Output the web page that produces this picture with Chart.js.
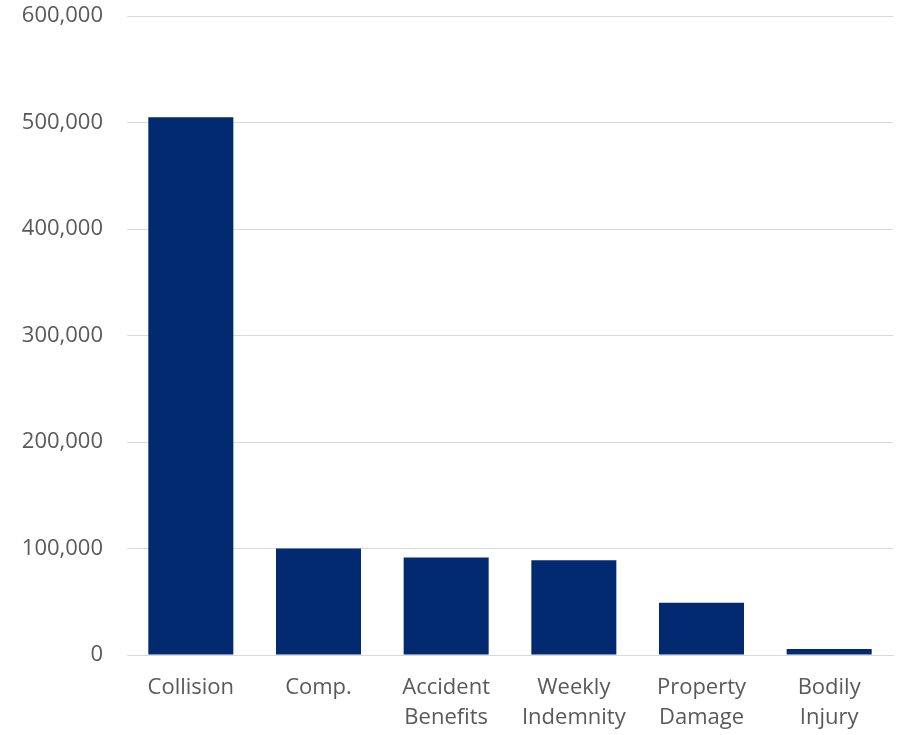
<!DOCTYPE html>
<html>
<head>
<meta charset="utf-8">
<script src="https://cdn.jsdelivr.net/npm/chart.js@4"></script>
<style>
  html, body { margin: 0; padding: 0; background: #fff; }
  #wrap { width: 899px; height: 735px; }
</style>
</head>
<body>
<div id="wrap"><canvas id="myChart" width="899" height="735"></canvas></div>
<script>
// setup
const categories = [
  "Collision",
  "Comp.",
  ["Accident", "Benefits"],
  ["Weekly", "Indemnity"],
  ["Property", "Damage"],
  ["Bodily", "Injury"],
];
const claimValues = [505000, 100000, 91500, 89000, 49000, 5600];
const yTicks = [0, 100000, 200000, 300000, 400000, 500000, 600000];

const textColor = "#595959";
const font = { family: "'Open Sans', 'Noto Sans', sans-serif", size: 22, lineHeight: 1.36 };

const data = {
  labels: categories,
  datasets: [
    {
      label: "Claims",
      data: claimValues,
      backgroundColor: "#022a70",
      borderWidth: 0,
      categoryPercentage: 1,
      barPercentage: 0.666,
    },
  ],
};

// config
const config = {
  type: "bar",
  data,
  options: {
    responsive: false,
    animation: false,
    layout: { padding: { top: 16, right: 6, left: 0, bottom: 0 } },
    plugins: {
      legend: { display: false },
      tooltip: { enabled: false },
    },
    scales: {
      x: {
        grid: { display: false, drawTicks: false },
        border: { display: true, color: "#d9d9d9", width: 1 },
        ticks: { color: textColor, font, padding: 18, maxRotation: 0 },
        afterFit: (axis) => { axis.height = 80; axis.paddingLeft = 0; axis.paddingRight = 0; },
      },
      y: {
        min: 0,
        max: 600000,
        afterBuildTicks: (axis) => { axis.ticks = yTicks.map((v) => ({ value: v })); },
        grid: { color: "#d9d9d9", drawTicks: false },
        border: { display: false },
        ticks: {
          color: textColor,
          font,
          padding: 24,
          callback: (v) => v.toLocaleString("en-US"),
        },
        afterFit: (axis) => { axis.width = 127; axis.paddingTop = 0; axis.paddingBottom = 0; },
      },
    },
  },
};

// render init block
const myChart = new Chart(document.getElementById("myChart"), config);
</script>
</body>
</html>
